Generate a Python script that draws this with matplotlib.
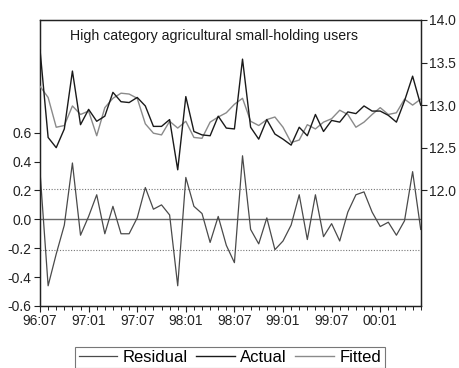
import matplotlib
matplotlib.use("Agg")
import matplotlib.pyplot as plt
import numpy as np
from matplotlib.lines import Line2D
from matplotlib.ticker import FixedLocator

plt.rcParams['font.family'] = ['Liberation Sans', 'DejaVu Sans']

# Monthly observations 1996:07 - 2000:06
start_year, start_month = 1996, 7
n_obs = 48

residual = [0.33, -0.46, -0.24, -0.04, 0.39, -0.11, 0.02, 0.17, -0.10, 0.09,
            -0.10, -0.10, 0.01, 0.22, 0.07, 0.10, 0.03, -0.46, 0.29, 0.09,
            0.04, -0.16, 0.02, -0.18, -0.30, 0.44, -0.07, -0.17, 0.01, -0.21,
            -0.15, -0.04, 0.17, -0.14, 0.17, -0.12, -0.03, -0.15, 0.05, 0.17,
            0.19, 0.05, -0.05, -0.02, -0.11, -0.01, 0.33, -0.07]

actual = [13.65, 12.62, 12.50, 12.72, 13.40, 12.77, 12.95, 12.81, 12.87, 13.15,
          13.04, 13.03, 13.09, 12.99, 12.75, 12.75, 12.83, 12.24, 13.10, 12.69,
          12.65, 12.64, 12.87, 12.73, 12.72, 13.54, 12.74, 12.60, 12.83, 12.66,
          12.60, 12.53, 12.74, 12.64, 12.89, 12.69, 12.82, 12.80, 12.92, 12.90,
          12.99, 12.93, 12.93, 12.88, 12.80, 13.05, 13.34, 13.00]

fitted = [13.22, 13.09, 12.74, 12.76, 12.99, 12.89, 12.93, 12.64, 12.97, 13.08,
          13.14, 13.13, 13.08, 12.78, 12.67, 12.65, 12.81, 12.73, 12.81, 12.62,
          12.61, 12.80, 12.86, 12.91, 13.01, 13.08, 12.81, 12.76, 12.83, 12.86,
          12.74, 12.56, 12.59, 12.77, 12.72, 12.80, 12.84, 12.94, 12.89, 12.74,
          12.80, 12.89, 12.97, 12.89, 12.91, 13.07, 13.00, 13.07]

title = "High category agricultural small-holding users"
std_err = 0.21

x = np.arange(n_obs)
labels = []
for i in range(n_obs):
    m = start_month - 1 + i
    yr = start_year + m // 12
    mo = m % 12 + 1
    labels.append(f"{yr % 100:02d}:{mo:02d}")
major_idx = [i for i in range(n_obs) if labels[i].endswith(":01") or labels[i].endswith(":07")]

fig = plt.figure(figsize=(4.6, 3.68), dpi=100)
ax = fig.add_axes([0.087, 0.1685, 0.8276, 0.7772])
ax2 = ax.twinx()

res_col = '#4a4a4a'
act_col = '#1a1a1a'
fit_col = '#8a8a8a'
ink = '#222222'

# residual panel on the left scale
ax.axhline(0.0, color='#6a6a6a', lw=1.0, zorder=1)
ax.axhline(std_err, color='#777777', lw=0.8, ls=(0, (1, 1.5)), zorder=1)
ax.axhline(-std_err, color='#777777', lw=0.8, ls=(0, (1, 1.5)), zorder=1)
ax.plot(x, residual, color=res_col, lw=0.9, zorder=2)
ax.set_ylim(-0.6, 1.38)
left_ticks = [-0.6, -0.4, -0.2, 0.0, 0.2, 0.4, 0.6]
ax.set_yticks(left_ticks)
ax.set_yticklabels([f"{v:.1f}" for v in left_ticks])

# actual and fitted on the right scale
ax2.plot(x, fitted, color=fit_col, lw=1.0, zorder=3)
ax2.plot(x, actual, color=act_col, lw=1.0, zorder=4)
ax2.set_ylim(10.64, 14.0)
right_ticks = [12.0, 12.5, 13.0, 13.5, 14.0]
ax2.set_yticks(right_ticks)
ax2.set_yticklabels([f"{v:.1f}" for v in right_ticks])

ax.set_xlim(0, n_obs - 1)
ax.set_xticks(major_idx)
ax.set_xticklabels([labels[i] for i in major_idx])
ax.xaxis.set_minor_locator(FixedLocator(list(x)))

for a in (ax, ax2):
    for sp in a.spines.values():
        sp.set_color(ink)
        sp.set_linewidth(0.9)
ax.tick_params(axis='both', which='major', direction='out', length=4, width=0.8,
               labelsize=10, colors=ink, pad=2)
ax.tick_params(axis='x', which='minor', direction='out', length=3, width=0.7, colors=ink)
ax.tick_params(axis='y', which='minor', left=False)
ax2.tick_params(axis='y', direction='out', length=4, width=0.8, labelsize=10,
                colors=ink, pad=2)

ax.text(0.078, 0.97, title, transform=ax.transAxes, fontsize=10.2, color='#1a1a1a',
        ha='left', va='top')

handles = [Line2D([], [], color=res_col, lw=0.9),
           Line2D([], [], color=act_col, lw=1.0),
           Line2D([], [], color=fit_col, lw=1.0)]
leg = fig.legend(handles, ['Residual', 'Actual', 'Fitted'], loc='upper center',
                 bbox_to_anchor=(0.5, 0.058), ncol=3, frameon=True, fancybox=False,
                 fontsize=12, handlelength=2.3, handletextpad=0.35, columnspacing=0.5,
                 borderpad=0.2, borderaxespad=0, edgecolor='#555555')
leg.get_frame().set_linewidth(0.8)

fig.savefig('out.png', dpi=100, facecolor='white')
